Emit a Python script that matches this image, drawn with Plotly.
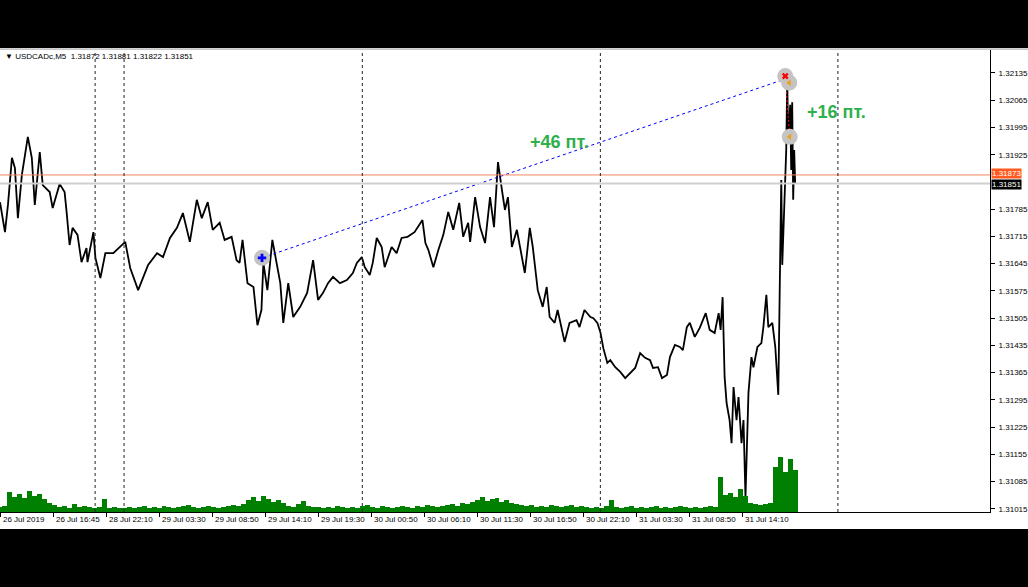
import plotly.graph_objects as go

# ---- data (time in hours since first bar, price in CAD) ----
hours = [0.0, 0.5, 0.8, 1.2, 1.5, 1.8, 2.2, 2.8, 3.2, 3.5, 4.0, 4.3, 5.0, 5.3, 6.0, 6.5, 6.7, 7.0, 7.3, 7.8,
         8.2, 8.7, 8.8, 9.4, 9.6, 10.1, 10.6, 11.4, 12.6, 13.1, 13.9, 14.4, 14.9, 15.8, 16.4, 17.1, 17.8, 18.4,
         19.1, 19.8, 20.3, 20.9, 21.4, 22.1, 22.6, 23.3, 23.8, 24.1, 24.4, 24.9, 25.5, 25.9, 26.3, 26.5, 26.9,
         27.4, 27.9, 28.2, 28.5, 29.0, 29.5, 30.2, 30.9, 31.5, 32.0, 32.5, 33.0, 33.5, 34.2, 34.9, 35.5, 35.9,
         36.4, 36.7, 37.2, 37.5, 37.9, 38.4, 38.7, 39.4, 39.9, 40.4, 41.0, 41.7, 42.5, 42.8, 43.1, 43.6, 44.1,
         44.6, 45.1, 45.6, 46.2, 46.6, 47.1, 47.3, 47.8, 48.3, 48.8, 49.3, 49.7, 50.1, 50.5, 50.8, 51.1, 51.5,
         52.0, 52.5, 52.8, 53.3, 53.6, 54.1, 54.6, 55.0, 55.3, 55.8, 56.1, 56.8, 57.3, 58.0, 58.3, 58.8, 59.4,
         59.7, 60.1, 60.4, 60.7, 61.1, 61.4, 61.9, 62.4, 62.9, 63.4, 63.9, 64.4, 64.9, 65.4, 65.7, 66.2, 66.6,
         67.1, 67.4, 67.9, 68.4, 68.7, 69.1, 69.4, 69.9, 70.4, 71.0, 71.4, 71.9, 72.3, 72.5, 72.7, 72.9, 73.1,
         73.4, 73.6, 73.8, 74.1, 74.3, 74.6, 74.8, 75.0, 75.3, 75.6, 75.8, 76.2, 76.6, 76.8, 77.1, 77.3, 77.7,
         78.0, 78.3, 78.5, 78.6, 78.7, 78.9, 79.1, 79.2, 79.3, 79.5, 79.6, 79.7, 79.8, 79.9, 80.0]
prices = [1.31803, 1.31726, 1.31796, 1.31917, 1.31891, 1.31762, 1.31873, 1.31971, 1.31917, 1.31796, 1.31932,
          1.31847, 1.31829, 1.31788, 1.31850, 1.31829, 1.31778, 1.31693, 1.31737, 1.31719, 1.31649, 1.31685,
          1.31649, 1.31726, 1.31660, 1.31608, 1.31672, 1.31672, 1.31701, 1.31634, 1.31577, 1.31608, 1.31642,
          1.31672, 1.31662, 1.31711, 1.31737, 1.31775, 1.31701, 1.31809, 1.31762, 1.31803, 1.31732, 1.31750,
          1.31706, 1.31714, 1.31654, 1.31647, 1.31706, 1.31595, 1.31585, 1.31487, 1.31526, 1.31647, 1.31577,
          1.31706, 1.31636, 1.31595, 1.31493, 1.31595, 1.31508, 1.31534, 1.31570, 1.31654, 1.31552, 1.31570,
          1.31595, 1.31611, 1.31595, 1.31603, 1.31621, 1.31647, 1.31662, 1.31636, 1.31616, 1.31647, 1.31711,
          1.31688, 1.31636, 1.31688, 1.31672, 1.31711, 1.31714, 1.31726, 1.31757, 1.31698, 1.31680, 1.31636,
          1.31680, 1.31719, 1.31778, 1.31732, 1.31801, 1.31714, 1.31750, 1.31701, 1.31816, 1.31739, 1.31698,
          1.31816, 1.31739, 1.31906, 1.31834, 1.31783, 1.31816, 1.31688, 1.31732, 1.31662, 1.31621, 1.31737,
          1.31688, 1.31577, 1.31534, 1.31585, 1.31508, 1.31493, 1.31526, 1.31444, 1.31493, 1.31500, 1.31482,
          1.31526, 1.31508, 1.31505, 1.31493, 1.31469, 1.31428, 1.31390, 1.31397, 1.31379, 1.31367, 1.31351,
          1.31364, 1.31377, 1.31415, 1.31403, 1.31397, 1.31377, 1.31379, 1.31351, 1.31359, 1.31405, 1.31436,
          1.31431, 1.31423, 1.31482, 1.31493, 1.31457, 1.31480, 1.31518, 1.31475, 1.31467, 1.31518, 1.31475,
          1.31559, 1.31354, 1.31287, 1.31243, 1.31184, 1.31328, 1.31243, 1.31302, 1.31184, 1.31243, 1.31045,
          1.31313, 1.31405, 1.31379, 1.31431, 1.31441, 1.31482, 1.31565, 1.31482, 1.31493, 1.31431, 1.31308,
          1.31680, 1.31860, 1.31642, 1.31770, 1.31937, 1.32117, 1.31963, 1.32053, 1.31886, 1.32060, 1.31809,
          1.31937, 1.31851]

# tick volume per half-hour bucket
volumes = [50, 60,
           200, 150, 180, 140, 210, 160, 180, 130,
           90, 70,
           50, 60, 40, 80, 50, 60, 50,
           40, 50, 130, 40, 50, 40,
           40, 50, 40, 50, 60, 40, 50, 40, 60, 50, 40, 50, 60, 70, 50, 40, 50, 60, 50, 40, 50, 60, 70, 60, 80,
           120, 150, 110, 160, 130, 100, 120, 90,
           60, 50, 80, 110, 60, 50,
           50, 40, 50, 40, 60, 50, 40, 50,
           40, 60, 70, 50, 40, 60, 50, 40,
           50, 60, 50, 40, 60, 50, 70, 60, 50, 60,
           70, 80, 60, 90, 80, 100,
           120, 150, 110, 130, 140, 100, 120, 90, 80, 70,
           60, 70, 50, 60, 50, 70, 60, 50, 60, 70, 50, 60, 50, 40,
           50, 40, 60, 120, 50, 40, 50, 60, 40, 50, 40, 50, 60, 40, 50, 40, 50, 60, 50, 40, 50, 40, 50, 60, 50,
           350,
           170, 190, 150, 230, 160,
           90, 80, 70, 80, 90,
           450, 550, 400, 530, 420]
vol_hours = [i * 0.5 for i in range(len(volumes))]

tick_labels = ["26 Jul 2019", "26 Jul 16:45", "28 Jul 22:10", "29 Jul 03:30", "29 Jul 08:50",
               "29 Jul 14:10", "29 Jul 19:30", "30 Jul 00:50", "30 Jul 06:10", "30 Jul 11:30",
               "30 Jul 16:50", "30 Jul 22:10", "31 Jul 03:30", "31 Jul 08:50", "31 Jul 14:10"]
tick_hours = [k * 16 / 3 for k in range(len(tick_labels))]
day_separators = [9.57, 12.48, 36.45, 60.4, 84.3]
# price scale labels (the 1.31855 level is hidden behind the bid/ask boxes)
price_ticks = [1.31015, 1.31085, 1.31155, 1.31225, 1.31295, 1.31365, 1.31435, 1.31505, 1.31575,
               1.31645, 1.31715, 1.31785, 1.31925, 1.31995, 1.32065, 1.32135]

ask_price = 1.31873
bid_price = 1.31851
buy_trade = {"open_h": 26.36, "open_p": 1.31660, "close_h": 79.05, "close_p": 1.32120}
sell_trade = {"open_h": 79.0, "open_p": 1.32127, "close_h": 79.45, "close_p": 1.31971}
header = "▼ USDCADc,M5  1.31872 1.31881 1.31822 1.31851"

X_RANGE = [0, 99.6]
Y_RANGE = [1.31007, 1.32194]
VOL_RANGE = [0, 4620]

fig = go.Figure()

fig.add_trace(go.Bar(x=vol_hours, y=volumes, width=0.5, marker=dict(color="#008000", line=dict(width=0)),
                     yaxis="y2", hoverinfo="skip"))

fig.add_trace(go.Scatter(x=hours, y=prices, mode="lines", line=dict(color="black", width=1.8),
                         hoverinfo="skip"))

# trade lines
fig.add_trace(go.Scatter(x=[buy_trade["open_h"], buy_trade["close_h"]],
                         y=[buy_trade["open_p"], buy_trade["close_p"]], mode="lines",
                         line=dict(color="#0000ff", width=1, dash="3px,3px"), hoverinfo="skip"))
fig.add_trace(go.Scatter(x=[sell_trade["open_h"], sell_trade["close_h"]],
                         y=[sell_trade["open_p"], sell_trade["close_p"]], mode="lines",
                         line=dict(color="#ff0000", width=1, dash="2px,2px"), hoverinfo="skip"))

# trade markers
fig.add_trace(go.Scatter(x=[buy_trade["open_h"], sell_trade["open_h"], buy_trade["close_h"] + 0.35, sell_trade["close_h"]],
                         y=[buy_trade["open_p"], sell_trade["open_p"], buy_trade["close_p"] - 0.0001, sell_trade["close_p"]],
                         mode="markers", marker=dict(size=16, color="#c4c4c4"), hoverinfo="skip"))
fig.add_trace(go.Scatter(x=[buy_trade["open_h"]], y=[buy_trade["open_p"]], mode="markers",
                         marker=dict(symbol="cross", size=7, color="#0000ff"), hoverinfo="skip"))
fig.add_trace(go.Scatter(x=[sell_trade["open_h"]], y=[sell_trade["open_p"]], mode="markers",
                         marker=dict(symbol="x", size=6, color="#ff0000"), hoverinfo="skip"))
fig.add_trace(go.Scatter(x=[buy_trade["close_h"] + 0.35, sell_trade["close_h"]],
                         y=[buy_trade["close_p"] - 0.0001, sell_trade["close_p"]], mode="markers",
                         marker=dict(symbol="triangle-left", size=6, color="#f0a020"), hoverinfo="skip"))

shapes = [
    dict(type="rect", xref="paper", yref="paper", x0=0, x1=1.04, y0=-0.0368, y1=1.0043,
         fillcolor="white", line=dict(width=0), layer="below"),
    dict(type="line", xref="paper", yref="paper", x0=0, x1=1.04, y0=1.002, y1=1.002,
         line=dict(color="#9a9a9a", width=1)),
    dict(type="line", xref="paper", yref="y", x0=0, x1=1, y0=ask_price, y1=ask_price,
         line=dict(color="#f4845f", width=1)),
    dict(type="line", xref="paper", yref="y", x0=0, x1=1, y0=bid_price, y1=bid_price,
         line=dict(color="#cfcfcf", width=2)),
]
for d in day_separators:
    shapes.append(dict(type="line", xref="x", yref="paper", x0=d, x1=d, y0=0, y1=1,
                       line=dict(color="#222222", width=1, dash="3px,3px")))

annotations = [
    dict(xref="paper", yref="paper", x=0.003, y=0.985, text=header, showarrow=False,
         xanchor="left", yanchor="middle", font=dict(family="Liberation Sans", size=8, color="black")),
    dict(xref="paper", yref="y", x=1.001, y=ask_price, text=f"{ask_price:.5f}", showarrow=False,
         xanchor="left", yanchor="middle", bgcolor="#ff5a1f", borderpad=0, yshift=1,
         font=dict(family="Liberation Sans", size=8, color="white")),
    dict(xref="paper", yref="y", x=1.001, y=bid_price, text=f"{bid_price:.5f}", showarrow=False,
         xanchor="left", yanchor="middle", bgcolor="black", borderpad=0, yshift=-1,
         font=dict(family="Liberation Sans", size=8, color="white")),
    dict(x=56.3, y=1.31958, text="<b>+46 пт.</b>", showarrow=False,
         font=dict(family="Liberation Sans", size=18, color="#2fb04c")),
    dict(x=84.2, y=1.32035, text="<b>+16 пт.</b>", showarrow=False,
         font=dict(family="Liberation Sans", size=18, color="#2fb04c")),
]
for h, lab in zip(tick_hours, tick_labels):
    annotations.append(dict(x=h, xref="x", yref="paper", y=-0.003, text=lab, showarrow=False,
                            xanchor="left", yanchor="top", xshift=1,
                            font=dict(family="Liberation Sans", size=8, color="black")))

fig.update_layout(
    width=1028, height=587,
    margin=dict(l=0, r=38, t=50, b=75),
    paper_bgcolor="black", plot_bgcolor="white",
    showlegend=False, bargap=0,
    shapes=shapes, annotations=annotations,
    xaxis=dict(range=X_RANGE, showgrid=False, zeroline=False, tickvals=tick_hours,
               showticklabels=False, ticks="outside", ticklen=4, tickcolor="black",
               showline=True, linecolor="black", linewidth=1),
    yaxis=dict(range=Y_RANGE, side="right", showgrid=False, zeroline=False, tickvals=price_ticks,
               tickformat=".5f", ticks="outside", ticklen=4, tickcolor="black",
               showline=True, linecolor="black", linewidth=1, ticklabelstandoff=2,
               tickfont=dict(family="Liberation Sans", size=8, color="black")),
    yaxis2=dict(range=VOL_RANGE, overlaying="y", visible=False),
)

fig.write_html(
    "out.html",
    config={"displayModeBar": False, "staticPlot": True},
    post_script="document.body.style.margin='0';document.body.style.padding='0';"
                "document.body.style.background='black';document.body.style.overflow='hidden';",
)
